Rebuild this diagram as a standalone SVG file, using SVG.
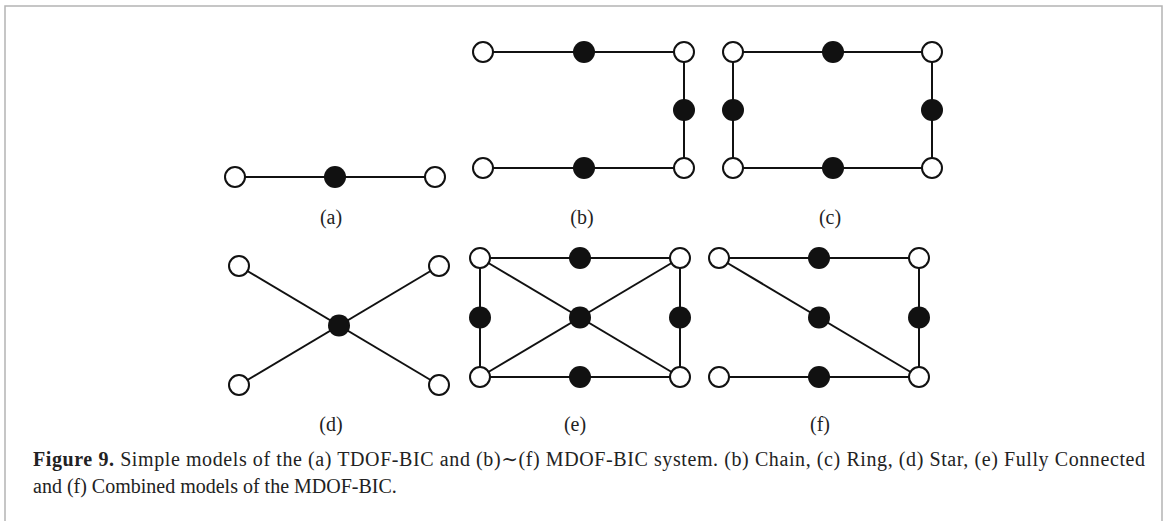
<svg xmlns="http://www.w3.org/2000/svg" width="1168" height="521" viewBox="0 0 1168 521">
<style>
.edge{stroke:#111;stroke-width:2;fill:none}
.w{fill:#fff;stroke:#111;stroke-width:2}
.b{fill:#111;stroke:none}
.lab{font-family:"Liberation Serif",serif;font-size:20px;fill:#222;text-anchor:middle}
.cap{font-family:"Liberation Serif","DejaVu Serif",serif;font-size:20px;fill:#222}
.frame{stroke:#b4b4b4;stroke-width:1.5;fill:none}
</style>
<rect width="1168" height="521" fill="#fff"/>
<path class="frame" d="M5,525 V6 H1162 V525"/>
<g id="connectors">
<line class="edge" x1="235" y1="177" x2="435" y2="177"/>
<path class="edge" d="M483,52 H684 V168 H483"/>
<rect class="edge" x="733" y="52" width="199" height="116"/>
<line class="edge" x1="239" y1="266" x2="439" y2="385"/>
<line class="edge" x1="439" y1="266" x2="239" y2="385"/>
<rect class="edge" x="480" y="258" width="200" height="119"/>
<line class="edge" x1="480" y1="258" x2="680" y2="377"/>
<line class="edge" x1="680" y1="258" x2="480" y2="377"/>
<path class="edge" d="M719,258 H919 V377 H719"/>
<line class="edge" x1="719" y1="258" x2="919" y2="377"/>
</g>
<g id="a-nodes">
<g id="a1"><circle class="w" cx="235" cy="177" r="10"/></g>
<g id="a2"><circle class="b" cx="335" cy="177" r="11"/></g>
<g id="a3"><circle class="w" cx="435" cy="177" r="10"/></g>
</g>
<g id="b-nodes">
<g id="b1"><circle class="w" cx="483" cy="52" r="10"/></g>
<g id="b2"><circle class="b" cx="584" cy="52" r="11"/></g>
<g id="b3"><circle class="w" cx="684" cy="52" r="10"/></g>
<g id="b4"><circle class="b" cx="684" cy="110" r="11"/></g>
<g id="b5"><circle class="w" cx="684" cy="168" r="10"/></g>
<g id="b6"><circle class="b" cx="584" cy="168" r="11"/></g>
<g id="b7"><circle class="w" cx="483" cy="168" r="10"/></g>
</g>
<g id="c-nodes">
<g id="c1"><circle class="w" cx="733" cy="52" r="10"/></g>
<g id="c2"><circle class="b" cx="833" cy="52" r="11"/></g>
<g id="c3"><circle class="w" cx="932" cy="52" r="10"/></g>
<g id="c4"><circle class="b" cx="932" cy="110" r="11"/></g>
<g id="c5"><circle class="w" cx="932" cy="168" r="10"/></g>
<g id="c6"><circle class="b" cx="833" cy="168" r="11"/></g>
<g id="c7"><circle class="w" cx="733" cy="168" r="10"/></g>
<g id="c8"><circle class="b" cx="733" cy="110" r="11"/></g>
</g>
<g id="d-nodes">
<g id="d1"><circle class="w" cx="239" cy="266" r="10"/></g>
<g id="d2"><circle class="w" cx="439" cy="266" r="10"/></g>
<g id="d3"><circle class="b" cx="339" cy="325.5" r="11"/></g>
<g id="d4"><circle class="w" cx="239" cy="385" r="10"/></g>
<g id="d5"><circle class="w" cx="439" cy="385" r="10"/></g>
</g>
<g id="e-nodes">
<g id="e1"><circle class="w" cx="480" cy="258" r="10"/></g>
<g id="e2"><circle class="b" cx="580" cy="258" r="11"/></g>
<g id="e3"><circle class="w" cx="680" cy="258" r="10"/></g>
<g id="e4"><circle class="b" cx="480" cy="317.5" r="11"/></g>
<g id="e5"><circle class="b" cx="580" cy="317.5" r="11"/></g>
<g id="e6"><circle class="b" cx="680" cy="317.5" r="11"/></g>
<g id="e7"><circle class="w" cx="480" cy="377" r="10"/></g>
<g id="e8"><circle class="b" cx="580" cy="377" r="11"/></g>
<g id="e9"><circle class="w" cx="680" cy="377" r="10"/></g>
</g>
<g id="f-nodes">
<g id="f1"><circle class="w" cx="719" cy="258" r="10"/></g>
<g id="f2"><circle class="b" cx="819" cy="258" r="11"/></g>
<g id="f3"><circle class="w" cx="919" cy="258" r="10"/></g>
<g id="f4"><circle class="b" cx="819" cy="317.5" r="11"/></g>
<g id="f5"><circle class="b" cx="919" cy="317.5" r="11"/></g>
<g id="f6"><circle class="w" cx="719" cy="377" r="10"/></g>
<g id="f7"><circle class="b" cx="819" cy="377" r="11"/></g>
<g id="f8"><circle class="w" cx="919" cy="377" r="10"/></g>
</g>
<g id="labels">
<text class="lab" x="331" y="224">(a)</text>
<text class="lab" x="582" y="224">(b)</text>
<text class="lab" x="830" y="224">(c)</text>
<text class="lab" x="331" y="431">(d)</text>
<text class="lab" x="575" y="431">(e)</text>
<text class="lab" x="820" y="431">(f)</text>
</g>
<g id="caption">
<text class="cap" x="33" y="466" textLength="1112" lengthAdjust="spacing"><tspan font-weight="bold">Figure 9.</tspan> Simple models of the (a) TDOF-BIC and (b)∼(f) MDOF-BIC system. (b) Chain, (c) Ring, (d) Star, (e) Fully Connected</text>
<text class="cap" x="33" y="493">and (f) Combined models of the MDOF-BIC.</text>
</g>
</svg>
